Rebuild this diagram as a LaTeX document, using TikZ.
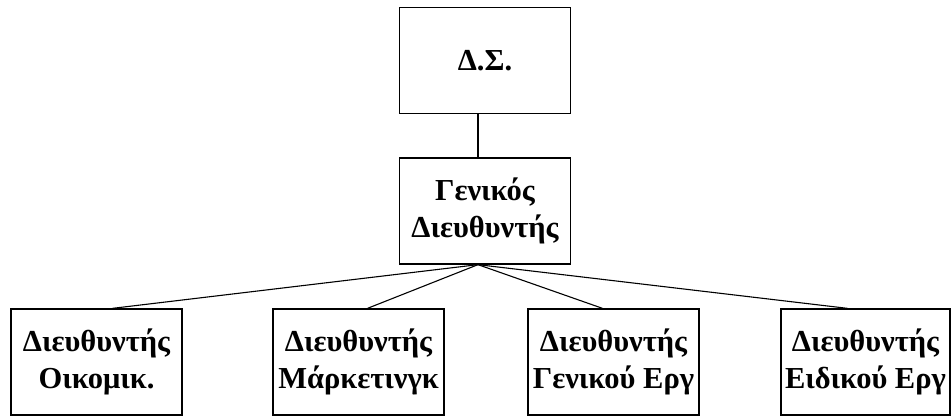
\documentclass[tikz,border=0pt]{standalone}
\usepackage{fontspec}
\setmainfont{Liberation Serif}
\usetikzlibrary{calc}
\tikzset{
  box/.style={draw, line width=1.3pt, minimum width=171pt, minimum height=106pt, inner sep=0pt, align=center, font=\fontsize{30.5}{37}\selectfont\bfseries},
  link/.style={line width=1.1pt}
}
\begin{document}
\begin{tikzpicture}[x=1pt,y=1pt]
\useasboundingbox (0,0) rectangle (951,416);
\node[box] (ds)  at (485,355.5) {Δ.Σ.};
\node[box] (gen) at (485,205) {Γενικός\\Διευθυντής};
\node[box] (b1) at (96.5,54) {Διευθυντής\\Οικομικ.};
\node[box] (b2) at (358.5,54) {Διευθυντής\\Μάρκετινγκ};
\node[box] (b3) at (613.5,54) {Διευθυντής\\Γενικού Εργ};
\node[box, minimum width=169pt] (b4) at (865.5,54) {Διευθυντής\\Ειδικού Εργ};
\coordinate (hub) at ($(gen.south)+(-7,0)$);
\coordinate (e1) at ($(b1.north)+(16,0)$);
\coordinate (e2) at ($(b2.north)+(9,0)$);
\coordinate (e3) at ($(b3.north)+(-11,0)$);
\coordinate (e4) at ($(b4.north)+(-18,0)$);
\draw[link] (ds.south -| hub) -- (gen.north -| hub);
\draw[link] (hub) -- (e1);
\draw[link] (hub) -- (e2);
\draw[link] (hub) -- (e3);
\draw[link] (hub) -- (e4);
\end{tikzpicture}
\end{document}
